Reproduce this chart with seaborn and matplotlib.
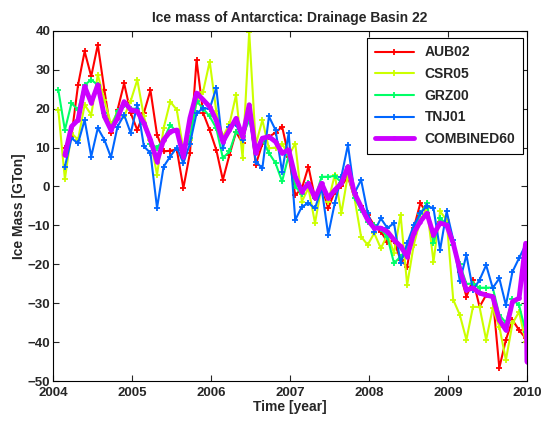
import numpy as np
import pandas as pd
import matplotlib
matplotlib.use("Agg")
import matplotlib.pyplot as plt
import seaborn as sns

# monthly epochs (Jan 2004 .. Dec 2009)
time = [2004.067 + k / 12 for k in range(72)]
nan = np.nan

aub02 = [nan, 10, 13, 26.1, 34.7, 28.3, 36.4, 24.8, 13.8, 19.7, 26.5, 18.9, 14.5,
         18.9, 24.7, 13.3, 9, 9.2, 9.5, -0.4, 8.6, 32.5, 18.9, 14.5, 9.4,
         1.7, 8.1, 14, 11.1, 20, 5.6, 11, 12.8, 13.8, 15.4, 7.7, -2.2,
         -0.5, 5.1, -3, 0.1, -5.6, -1.3, 0.1, 2.5, -3, -5, -7.3, -10,
         -11.6, -14.2, -14, -18.9, -20.6, -10.7, -4.3, -6.9, -13, -9, -9, -15,
         -22, -28.3, -24, -30.9, -27.9, -28.3, -46.6, -39.4, -34.3, -36.9, -39]

csr05 = [19.7, 1.9, 13.7, 12, 21, 18.4, 28.7, 22.3, 16, 19, 18, 22, 27.4,
         18, 12, 3, 15, 21.8, 19.7, 9.4, 12, 21.8, 24.4, 32.1, 19.3,
         12.8, 16, 23.5, 7.3, 39.8, 10.7, 17.1, 9.8, 10, 11, 8, 11,
         -3.9, -0.4, -9.4, 0.1, -4, 3, -6.9, 3, -3, -12.9, -15, -12,
         -15.9, -12.4, -17.1, -7.3, -25.3, -15, -8.6, -5.5, -19.3, -6.4, -8.6, -29.1,
         -33, -39.4, -30.9, -31, -39.4, -31.3, -36, -44.6, -35.2, -32.2, -39.9]

grz00 = [24.8, 14.5, 21.4, 19.7, 26.1, 27.4, 26.1, 19, 15, 19.3, 21, 20, 20,
         16, 11, 10, 12, 15.8, 14, 9, 12.4, 22, 20, 18, 15,
         7.3, 9, 14, 13, 17, 10, 12, 8.6, 6, 1.3, 8, 0,
         -2, 1, -3, 2.5, 2.5, 2.7, 1, 5, -3, -6, -9, -10,
         -11, -13, -19.7, -18, -16, -11, -7, -4.3, -14.6, -8, -10, -15,
         -20, -25, -25, -26, -26, -26, -33, -35, -29, -30.5, -37.3]

tnj01 = [nan, 5.1, 12.4, 11.1, 17.1, 7.7, 15, 12, 7.5, 15.4, 18.4, 13.7, 21,
         10.3, 8.6, -5.5, 5.1, 7.7, 10, 6, 11, 18.8, 20.1, 20, 25.3,
         9.9, 15.4, 16, 12, 19, 6.4, 4.7, 18, 14.5, 3.8, 13.7, -8.6,
         -5.2, -4.3, -5.6, -0.4, -12.4, -4.3, 2.5, 10.7, -1.7, 1.7, -6.8, -11.6,
         -8.2, -10.7, -9.4, -19.7, -14.6, -10, -6.9, -5, -5.6, -16.3, -6.4, -13.7,
         -24.4, -17.6, -26.6, -24, -20.2, -26.1, -23.6, -30.5, -21.9, -18.4, -15]

# combined solution has one extra value at the very end
time_comb = time[1:] + [2010.0]
combined60 = [8.1, 15.4, 17.1, 25.7, 21.5, 26.1, 18, 14.5, 17.6, 21.8, 19.7, 19.3,
              16.3, 12, 6.4, 12, 14.1, 14.5, 7.7, 17.6, 24, 22.3, 20.5, 17,
              11.5, 14.5, 17.5, 12.8, 21, 8.6, 12.4, 12.8, 11.5, 8.6, 9.4, 2.5,
              -1.3, 0.8, -3, 0.8, -3, -0.9, 0.8, 5.1, -1.7, -5.2, -8.6, -10.7,
              -10.7, -11.6, -13.7, -15.4, -18, -12, -9, -6.9, -12.4, -9.4, -9.9, -14.6,
              -21.4, -26.6, -26.1, -27.4, -27.9, -28.3, -34.3, -36.9, -29.6, -28.7, -14.6,
              -45]

sns.set_style("ticks")
plt.rcParams['font.family'] = ['Liberation Sans', 'DejaVu Sans']
plt.rcParams['font.weight'] = 'bold'
plt.rcParams['axes.labelweight'] = 'bold'
plt.rcParams['axes.titleweight'] = 'bold'

fig = plt.figure(figsize=(5.41, 4.22), dpi=100)
ax = fig.add_axes([0.098, 0.097, 0.876, 0.83])

series = [("AUB02", aub02, "#ff0000"),
          ("CSR05", csr05, "#ccff00"),
          ("GRZ00", grz00, "#00ff66"),
          ("TNJ01", tnj01, "#0066ff")]
for name, vals, col in series:
    df = pd.DataFrame({"t": time, "v": vals}).dropna()
    sns.lineplot(data=df, x="t", y="v", ax=ax, color=col, lw=1.5, marker="+",
                 markersize=4, mew=1.3, mec=col, label=name, sort=False,
                 estimator=None)

dfc = pd.DataFrame({"t": time_comb, "v": combined60})
sns.lineplot(data=dfc, x="t", y="v", ax=ax, color="#cc00ff", lw=3.5, marker=".",
             markersize=5, mec="#cc00ff", label="COMBINED60", sort=False,
             estimator=None)

ax.set_xlim(2004, 2010)
ax.set_ylim(-50, 40)
ax.set_xticks(range(2004, 2011))
ax.set_yticks(range(-50, 41, 10))
ax.tick_params(direction="in", top=True, right=True, labelsize=9.5, length=4,
               width=0.8, pad=2)
ax.tick_params(axis="x", pad=4)
for s in ax.spines.values():
    s.set_linewidth(0.8)
    s.set_color("black")
ax.set_xlabel("Time [year]", fontsize=10, labelpad=1)
ax.set_ylabel("Ice Mass [GTon]", fontsize=10, labelpad=1)
ax.set_title("Ice mass of Antarctica: Drainage Basin 22", fontsize=10, pad=6)

leg = ax.legend(loc="upper right", bbox_to_anchor=(0.992, 0.98), fancybox=False,
                edgecolor="black", framealpha=1, fontsize=10, handlelength=2.8,
                labelspacing=0.55, borderaxespad=0, borderpad=0.55)
leg.get_frame().set_linewidth(0.8)

fig.savefig("out.png", dpi=100)
